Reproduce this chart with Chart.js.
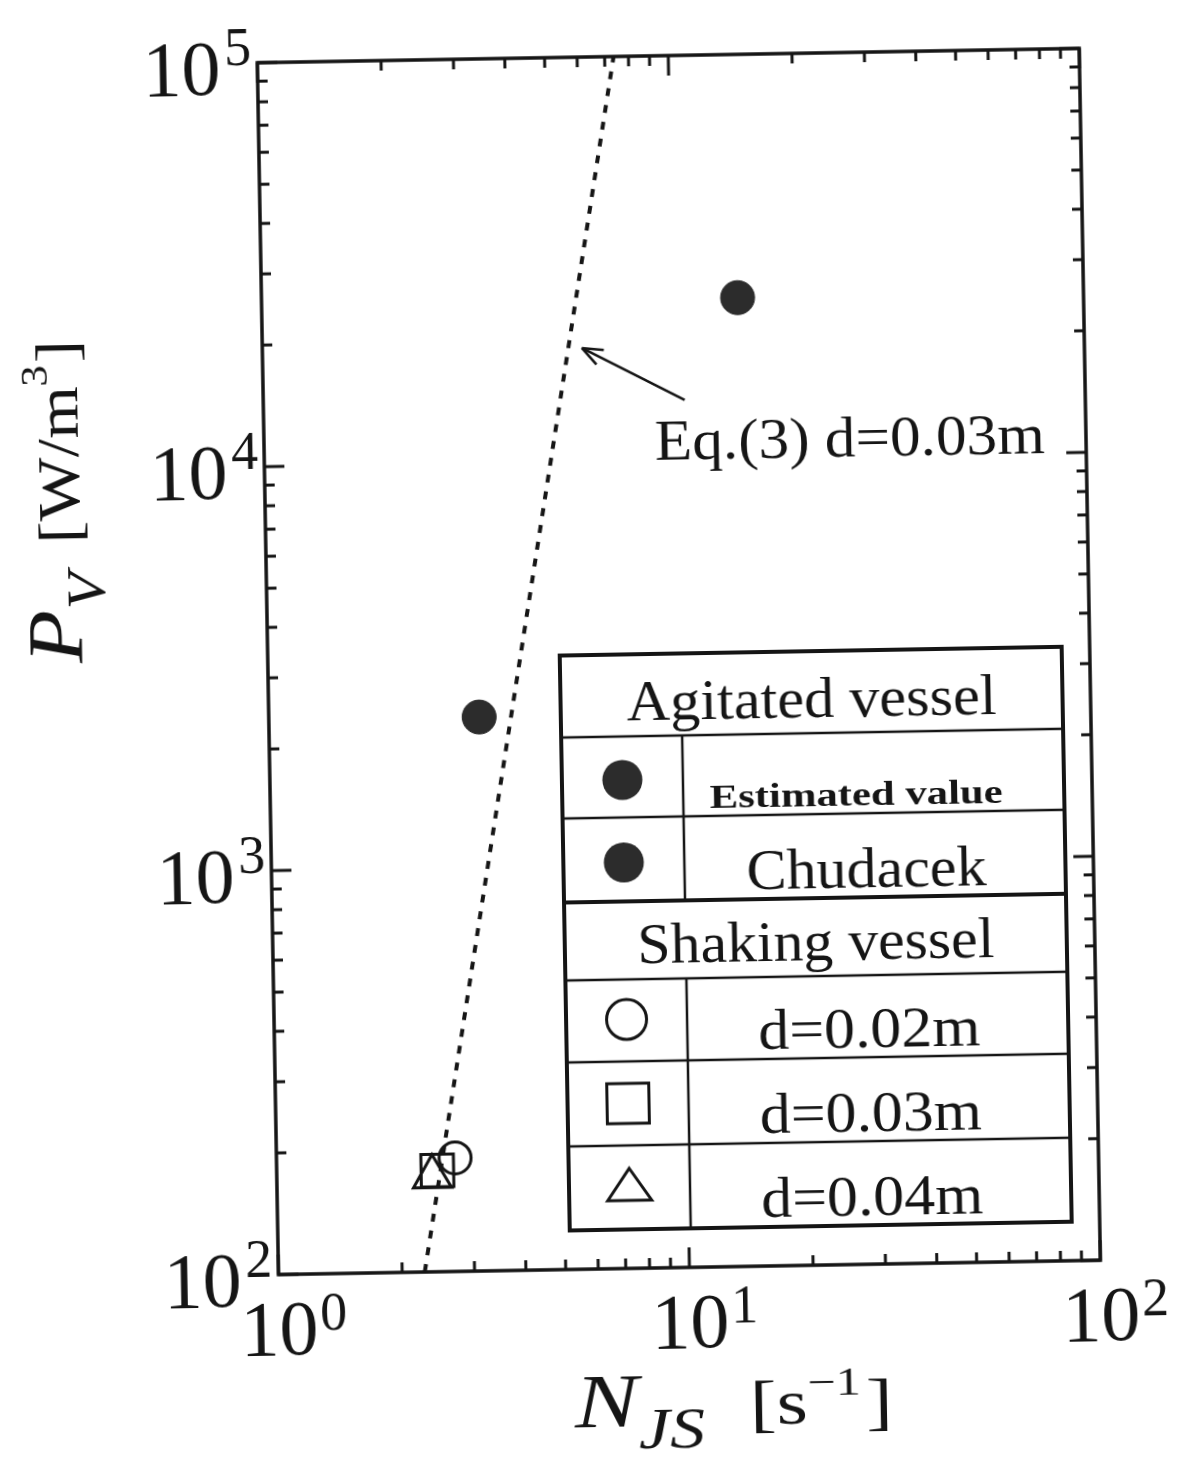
<!DOCTYPE html>
<html>
<head>
<meta charset="utf-8">
<script src="https://cdn.jsdelivr.net/npm/chart.js@4.4.1/dist/chart.umd.min.js"></script>
<style>
  html, body { margin: 0; padding: 0; background: #fff; overflow: hidden; }
  #wrap { width: 1185px; height: 1457px; transform: rotate(-1deg); transform-origin: 50% 50%; background: #fff; }
</style>
</head>
<body>
<div id="wrap"><canvas id="plot" width="1185" height="1457"></canvas></div>
<script>
// values
const estimatedN = [14.4];
const estimatedP = [25000];
const chudacekN = [3.25];
const chudacekP = [2350];
const shake002N = [2.72];
const shake002P = [191];
const shake003N = [2.46];
const shake003P = [178];
const shake004N = [2.39];
const shake004P = [172];
const eqLineN = [2.27, 7.36];
const eqLinePV = [100, 100000];
const arrowN = [10.6, 5.99];
const arrowPV = [14020, 19050];
const eqLabelN = 8.93;
const eqLabelPV = 10000;

const xDecades = [1, 10, 100];
const yDecades = [100, 1000, 10000, 100000];
const xExponents = ['0', '1', '2'];
const yExponents = ['2', '3', '4', '5'];
const minorSteps = [2, 3, 4, 5, 6, 7, 8, 9];

const legendRows = [
    { text: 'Agitated vessel', header: true },
    { text: 'Estimated value', marker: 'dot', small: true },
    { text: 'Chudacek', marker: 'dot' },
    { text: 'Shaking vessel', header: true },
    { text: 'd=0.02m', marker: 'circle' },
    { text: 'd=0.03m', marker: 'square' },
    { text: 'd=0.04m', marker: 'triangle' }
];

const serif = '"Liberation Serif", "DejaVu Serif", serif';
const ink = '#151515';
const dotFill = '#2c2c2c';

const toXY = (xs, ys) => xs.map((x, i) => ({ x: x, y: ys[i] }));

// draws a run of text pieces (font, vertical offset) squeezed to a target length
function drawPieces(ctx, pieces, x, y, target) {
    let total = 0;
    pieces.forEach(p => {
        ctx.font = p.font;
        p.w = ctx.measureText(p.text).width;
        total += p.w + (p.gap || 0);
    });
    const k = target ? target / total : 1;
    ctx.save();
    ctx.translate(x, y);
    ctx.scale(k, 1);
    ctx.textAlign = 'left';
    ctx.textBaseline = 'alphabetic';
    let cx = 0;
    pieces.forEach(p => {
        ctx.font = p.font;
        ctx.fillText(p.text, cx, p.dy || 0);
        cx += p.w + (p.gap || 0);
    });
    ctx.restore();
}

function fitCentered(ctx, text, font, cx, y, width) {
    ctx.font = font;
    const w = ctx.measureText(text).width;
    drawPieces(ctx, [{ text: text, font: font }], cx - width / 2, y, width);
}

const figurePlugin = {
    id: 'figure',
    afterDatasetsDraw(chart) {
        const ctx = chart.ctx;
        const xs = chart.scales.x, ys = chart.scales.y;
        const a = chart.chartArea;
        ctx.save();
        ctx.strokeStyle = ink;
        ctx.fillStyle = ink;
        ctx.lineCap = 'butt';

        // inward ticks on all four sides
        ctx.lineWidth = 3;
        const tick = (x1, y1, x2, y2) => { ctx.beginPath(); ctx.moveTo(x1, y1); ctx.lineTo(x2, y2); ctx.stroke(); };
        xDecades.forEach((d, i) => {
            const px = xs.getPixelForValue(d);
            tick(px, a.bottom, px, a.bottom - 20);
            tick(px, a.top, px, a.top + 20);
            if (i < xDecades.length - 1) {
                minorSteps.forEach(m => {
                    const mx = xs.getPixelForValue(d * m);
                    tick(mx, a.bottom, mx, a.bottom - 10);
                    tick(mx, a.top, mx, a.top + 10);
                });
            }
        });
        yDecades.forEach((d, i) => {
            const py = ys.getPixelForValue(d);
            tick(a.left, py, a.left + 20, py);
            tick(a.right, py, a.right - 20, py);
            if (i < yDecades.length - 1) {
                minorSteps.forEach(m => {
                    const my = ys.getPixelForValue(d * m);
                    tick(a.left, my, a.left + 10, my);
                    tick(a.right, my, a.right - 10, my);
                });
            }
        });

        // frame
        ctx.lineWidth = 3.5;
        ctx.strokeRect(a.left, a.top, a.right - a.left, a.bottom - a.top);

        // tick labels 10^n
        const big = '78px ' + serif, sup = '54px ' + serif;
        yDecades.forEach((d, i) => {
            const py = ys.getPixelForValue(d);
            ctx.font = sup;
            const sw = ctx.measureText(yExponents[i]).width;
            ctx.textAlign = 'right';
            ctx.fillText(yExponents[i], a.left - 6, py + 2);
            ctx.font = big;
            ctx.fillText('10', a.left - 10 - sw, py + 31);
        });
        xDecades.forEach((d, i) => {
            const px = xs.getPixelForValue(d);
            ctx.font = big;
            const w = ctx.measureText('10').width;
            ctx.textAlign = 'center';
            ctx.fillText('10', px, a.bottom + 80);
            ctx.font = sup;
            ctx.textAlign = 'left';
            ctx.fillText(xExponents[i], px + w / 2 + 2, a.bottom + 56);
        });

        // axis titles
        drawPieces(ctx, [
            { text: 'N', font: 'italic 76px ' + serif },
            { text: 'JS', font: 'italic 56px ' + serif, dy: 22, gap: 36 },
            { text: '[s', font: '64px ' + serif },
            { text: '\u22121', font: '40px ' + serif, dy: -28, gap: 4 },
            { text: ']', font: '64px ' + serif }
        ], 563, a.bottom + 158, 318);

        ctx.save();
        ctx.translate(83, 654);
        ctx.rotate(-Math.PI / 2);
        drawPieces(ctx, [
            { text: 'P', font: 'italic 78px ' + serif },
            { text: 'V', font: 'italic 54px ' + serif, dy: 24, gap: 26 },
            { text: '[W/m', font: '60px ' + serif },
            { text: '3', font: '38px ' + serif, dy: -30, gap: 2 },
            { text: ']', font: '60px ' + serif }
        ], 0, 0, 323);
        ctx.restore();

        // Eq.(3) annotation and arrow
        const tx = xs.getPixelForValue(arrowN[0]), ty = ys.getPixelForValue(arrowPV[0]);
        const hx = xs.getPixelForValue(arrowN[1]), hy = ys.getPixelForValue(arrowPV[1]);
        ctx.lineWidth = 2.5;
        tick(tx, ty, hx, hy);
        const ang = Math.atan2(ty - hy, tx - hx);
        [0.38, -0.38].forEach(da => tick(hx, hy, hx + 22 * Math.cos(ang + da), hy + 22 * Math.sin(ang + da)));
        drawPieces(ctx, [{ text: 'Eq.(3) d=0.03m', font: '58px ' + serif }],
            xs.getPixelForValue(eqLabelN), ys.getPixelForValue(eqLabelPV), 390);

        // legend table
        const L = 561, R = 1063, C = 682;
        const rowY = [655, 737, 818, 902, 980, 1062, 1146, 1230];
        ctx.fillStyle = '#fff';
        ctx.fillRect(L, rowY[0], R - L, rowY[7] - rowY[0]);
        ctx.fillStyle = ink;
        ctx.lineWidth = 2.5;
        rowY.slice(1, 7).forEach((y, i) => {
            ctx.lineWidth = (i === 2) ? 4 : 2.5;
            tick(L, y, R, y);
        });
        ctx.lineWidth = 2.5;
        tick(C, rowY[1], C, rowY[3]);
        tick(C, rowY[4], C, rowY[7]);
        ctx.lineWidth = 4;
        ctx.strokeRect(L, rowY[0], R - L, rowY[7] - rowY[0]);

        const mx = (L + C) / 2;
        legendRows.forEach((row, i) => {
            const y0 = rowY[i], y1 = rowY[i + 1], my = (y0 + y1) / 2;
            if (row.header) {
                const w = row.text === 'Agitated vessel' ? 370 : 357;
                fitCentered(ctx, row.text, '56px ' + serif, (L + R) / 2, y1 - 16, w);
                return;
            }
            if (row.small) {
                fitCentered(ctx, row.text, 'bold 34px ' + serif, 855, y1 - 8, 293);
            } else {
                const w = row.text === 'Chudacek' ? 240 : 222;
                fitCentered(ctx, row.text, '56px ' + serif, 864, y1 - 10, w);
            }
            ctx.lineWidth = 3;
            ctx.beginPath();
            if (row.marker === 'dot') {
                ctx.fillStyle = dotFill;
                ctx.arc(mx, my + 3, 20, 0, Math.PI * 2);
                ctx.fill();
                ctx.fillStyle = ink;
            } else if (row.marker === 'circle') {
                ctx.arc(mx, my - 1, 20, 0, Math.PI * 2);
                ctx.stroke();
            } else if (row.marker === 'square') {
                ctx.rect(mx - 21, my - 20, 42, 40);
                ctx.stroke();
            } else {
                ctx.moveTo(mx, my - 19);
                ctx.lineTo(mx + 22, my + 13);
                ctx.lineTo(mx - 22, my + 13);
                ctx.closePath();
                ctx.stroke();
            }
        });
        ctx.restore();
    }
};

new Chart(document.getElementById('plot').getContext('2d'), {
    type: 'scatter',
    data: {
        datasets: [
            {
                label: 'Eq.(3) d=0.03m',
                data: toXY(eqLineN, eqLinePV),
                showLine: true,
                borderColor: ink,
                borderWidth: 4,
                borderDash: [8, 9],
                pointRadius: 0
            },
            {
                label: 'Estimated value',
                data: toXY(estimatedN, estimatedP),
                pointStyle: 'circle',
                pointRadius: 17,
                backgroundColor: dotFill,
                borderColor: dotFill,
                borderWidth: 1
            },
            {
                label: 'Chudacek',
                data: toXY(chudacekN, chudacekP),
                pointStyle: 'circle',
                pointRadius: 17,
                backgroundColor: dotFill,
                borderColor: dotFill,
                borderWidth: 1
            },
            {
                label: 'd=0.04m',
                data: toXY(shake004N, shake004P),
                pointStyle: 'triangle',
                pointRadius: 22,
                backgroundColor: 'rgba(0,0,0,0)',
                borderColor: ink,
                borderWidth: 3
            },
            {
                label: 'd=0.03m',
                data: toXY(shake003N, shake003P),
                pointStyle: 'rect',
                pointRadius: 23,
                backgroundColor: 'rgba(0,0,0,0)',
                borderColor: ink,
                borderWidth: 3
            },
            {
                label: 'd=0.02m',
                data: toXY(shake002N, shake002P),
                pointStyle: 'circle',
                pointRadius: 16,
                backgroundColor: 'rgba(0,0,0,0)',
                borderColor: ink,
                borderWidth: 3
            }
        ]
    },
    options: {
        responsive: false,
        animation: false,
        devicePixelRatio: 1,
        layout: { padding: { left: 269, right: 94, top: 57, bottom: 188 } },
        plugins: { legend: { display: false }, tooltip: { enabled: false } },
        scales: {
            x: {
                type: 'logarithmic',
                min: 1,
                max: 100,
                ticks: { display: false },
                grid: { display: false },
                border: { display: false },
                afterFit: s => { s.height = 0; }
            },
            y: {
                type: 'logarithmic',
                min: 100,
                max: 100000,
                ticks: { display: false },
                grid: { display: false },
                border: { display: false },
                afterFit: s => { s.width = 0; }
            }
        }
    },
    plugins: [figurePlugin]
});
</script>
</body>
</html>
